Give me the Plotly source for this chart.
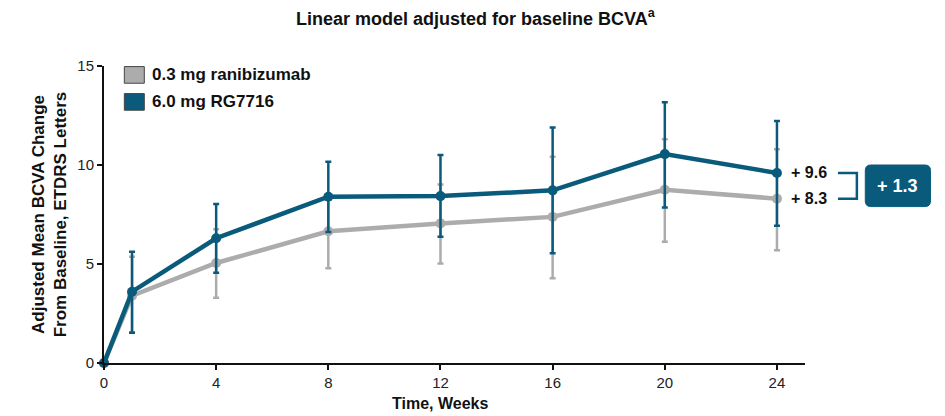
import plotly.graph_objects as go

weeks = [0, 1, 4, 8, 12, 16, 20, 24]
ranibizumab_mean = [0, 3.4, 5.05, 6.65, 7.05, 7.38, 8.75, 8.3]
ranibizumab_upper = [None, 5.37, 6.75, 8.35, 9.02, 10.42, 11.3, 10.8]
ranibizumab_lower = [None, 1.55, 3.3, 4.78, 5.03, 4.28, 6.13, 5.7]
rg7716_mean = [0, 3.6, 6.3, 8.4, 8.43, 8.72, 10.55, 9.6]
rg7716_upper = [None, 5.62, 8.03, 10.17, 10.5, 11.9, 13.17, 12.22]
rg7716_lower = [None, 1.53, 4.56, 6.62, 6.38, 5.54, 7.85, 6.93]
series_names = ["0.3 mg ranibizumab", "6.0 mg RG7716"]
y_ticks = [0, 5, 10, 15]
x_ticks = [0, 4, 8, 12, 16, 20, 24]

GRAY = "#acacac"
BLUE = "#0a5b7b"
FONT = "Liberation Sans Narrow, Arial Narrow, Liberation Sans, Arial, sans-serif"


def err(upper, lower, mean):
    plus = [None if u is None else u - m for u, m in zip(upper, mean)]
    minus = [None if l is None else m - l for l, m in zip(lower, mean)]
    return plus, minus


fig = go.Figure()
for name, mean, up, lo, col in [
    (series_names[0], ranibizumab_mean, ranibizumab_upper, ranibizumab_lower, GRAY),
    (series_names[1], rg7716_mean, rg7716_upper, rg7716_lower, BLUE),
]:
    plus, minus = err(up, lo, mean)
    fig.add_trace(go.Scatter(
        x=weeks, y=mean, name=name, mode="lines+markers",
        line=dict(color=col, width=4.5),
        marker=dict(color=col, size=10),
        error_y=dict(type="data", array=plus, arrayminus=minus, symmetric=False,
                     color=col, thickness=2.5, width=3),
        showlegend=False, cliponaxis=False, hoverinfo="skip",
    ))

# custom legend swatches
for i, (name, col) in enumerate(zip(series_names, [GRAY, BLUE])):
    y0 = 1.0 - i * 0.0909
    fig.add_shape(type="rect", xref="paper", yref="paper",
                  x0=0.029, x1=0.0575, y0=y0 - 0.058, y1=y0 - 0.002,
                  fillcolor=col, line=dict(color="#444444", width=1))
    fig.add_annotation(xref="paper", yref="paper", x=0.066, y=y0 - 0.03,
                       text=f"<b>{name}</b>", showarrow=False, xanchor="left",
                       yanchor="middle", font=dict(size=17, color="#111111", family=FONT))

# end labels and difference
for val in [rg7716_mean[-1], ranibizumab_mean[-1]]:
    fig.add_annotation(x=weeks[-1], y=val, xref="x", yref="y",
                       text=f"<b>+ {val:.1f}</b>", showarrow=False, xanchor="left",
                       xshift=12, font=dict(size=16, color="#111111", family=FONT))

yb1, yb2 = rg7716_mean[-1], ranibizumab_mean[-1]
fig.add_shape(type="path", xref="paper", yref="y",
              path=f"M 1.047,{yb1} L 1.074,{yb1} L 1.074,{yb2} L 1.047,{yb2}",
              line=dict(color=BLUE, width=2.5))

# rounded box
bx0, bx1 = 1.086, 1.179
ym = (yb1 + yb2) / 2
by0, by1 = ym - 1.05, ym + 1.05
rx, ry = 0.008, 0.28
box_path = (f"M {bx0 + rx},{by0} L {bx1 - rx},{by0} Q {bx1},{by0} {bx1},{by0 + ry} "
            f"L {bx1},{by1 - ry} Q {bx1},{by1} {bx1 - rx},{by1} "
            f"L {bx0 + rx},{by1} Q {bx0},{by1} {bx0},{by1 - ry} "
            f"L {bx0},{by0 + ry} Q {bx0},{by0} {bx0 + rx},{by0} Z")
fig.add_shape(type="path", xref="paper", yref="y", path=box_path,
              fillcolor=BLUE, line=dict(color=BLUE, width=1))
fig.add_annotation(xref="paper", yref="y", x=(bx0 + bx1) / 2, y=ym,
                   text=f"<b>+ {yb1 - yb2:.1f}</b>", showarrow=False,
                   xanchor="center", yanchor="middle",
                   font=dict(size=18, color="white", family=FONT))

fig.add_annotation(xref="x", yref="paper", x=12, y=-0.135, yanchor="middle",
                   text="<b>Time, Weeks</b>", showarrow=False,
                   font=dict(size=16, color="#111111", family=FONT))

fig.update_layout(
    width=945, height=416,
    margin=dict(l=104, r=140, t=66, b=53, autoexpand=False),
    paper_bgcolor="white", plot_bgcolor="white",
    title=dict(text="<b>Linear model adjusted for baseline BCVA<sup>a</sup></b>",
               x=0.503, xanchor="center", y=0.955, yanchor="middle",
               font=dict(size=18, color="#111111", family=FONT)),
    font=dict(family=FONT, color="#222222"),
)
fig.update_xaxes(range=[0, 25], tickvals=x_ticks, ticktext=[str(t) for t in x_ticks],
                 showgrid=False, zeroline=False, showline=True, linecolor="#111111",
                 linewidth=2, ticks="outside", ticklen=5, tickwidth=2, tickcolor="#111111",
                 tickfont=dict(size=15, color="#222222", family=FONT))
fig.update_yaxes(range=[0, 15], tickvals=y_ticks, ticktext=[str(t) for t in y_ticks],
                 showgrid=False, zeroline=False, showline=True, linecolor="#111111",
                 linewidth=2, ticks="outside", ticklen=5, tickwidth=2, tickcolor="#111111",
                 tickfont=dict(size=15, color="#222222", family=FONT),
                 title=dict(text="<b>Adjusted Mean BCVA Change<br>From Baseline, ETDRS Letters</b>",
                            font=dict(size=17, color="#111111", family=FONT), standoff=6))

fig.write_html("out.html", config={"displayModeBar": False},
               post_script="document.body.style.margin='0';document.body.style.overflow='hidden';")
